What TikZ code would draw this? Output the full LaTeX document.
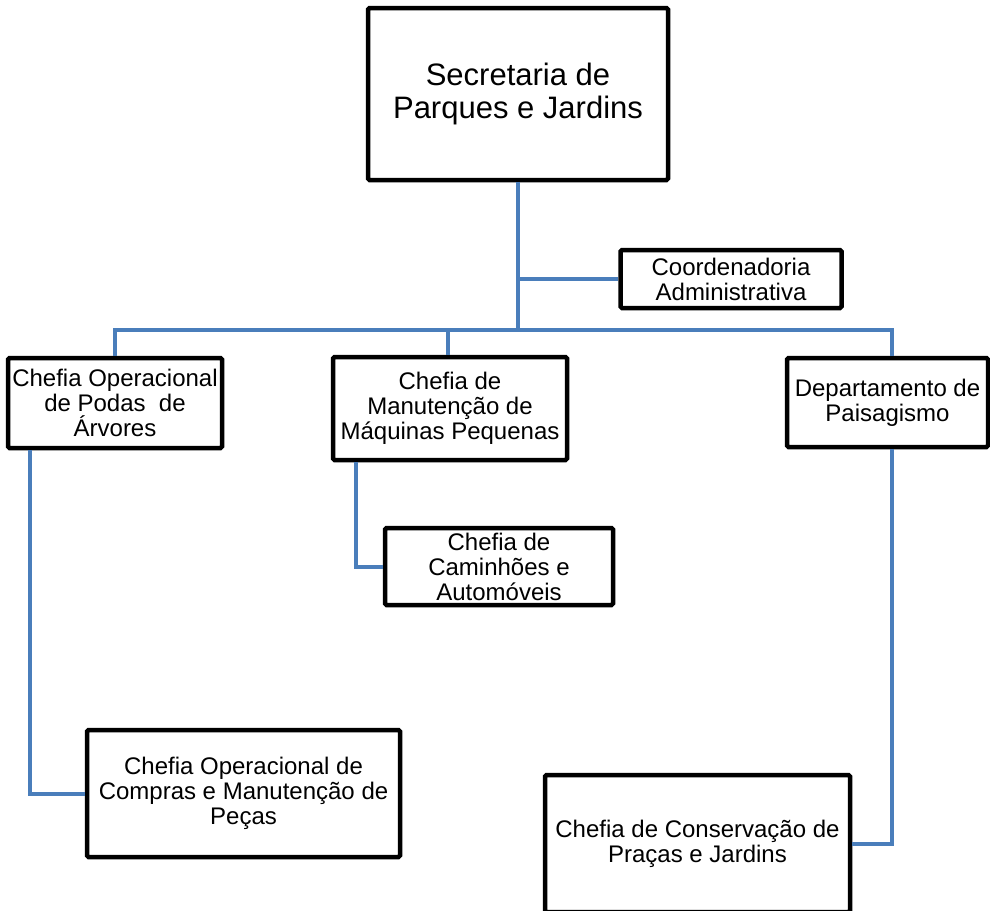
\documentclass[tikz,border=0pt]{standalone}
\usepackage{fontspec}
\setmainfont{Liberation Sans}
\definecolor{linkblue}{RGB}{74,126,187}
\begin{document}
\begin{tikzpicture}[x=1pt,y=-1pt,
  orgbox/.style={draw=black, line width=4.5pt, rounded corners=1.5pt, fill=white,
    inner sep=0pt, align=center, font=\fontsize{24}{25}\selectfont},
  link/.style={draw=linkblue, line width=4pt}]
\useasboundingbox (0,0) rectangle (990,910);
% nodes
\node[orgbox, minimum width=300, minimum height=172, font=\fontsize{31}{33}\selectfont] (sec) at (518,94) {Secretaria de\\Parques e Jardins};
\node[orgbox, minimum width=221, minimum height=58] (coord) at (731,279) {Coordenadoria\\Administrativa};
\node[orgbox, minimum width=214, minimum height=90] (podas) at (115,403) {Chefia Operacional\\de Podas~ de\\Árvores};
\node[orgbox, minimum width=234, minimum height=103] (mid) at (450,408.5) {Chefia de\\Manutenção de\\Máquinas Pequenas};
\node[orgbox, minimum width=201, minimum height=89] (dept) at (887.5,402.5) {Departamento de\\Paisagismo};
\node[orgbox, minimum width=228, minimum height=77] (cam) at (499,566.5) {Chefia de\\Caminhões e\\Automóveis};
\node[orgbox, minimum width=313, minimum height=127] (compras) at (243.5,793.5) {Chefia Operacional de\\Compras e Manutenção de\\Peças};
\node[orgbox, minimum width=305, minimum height=137] (cons) at (697.5,843.5) {Chefia de Conservação de\\Praças e Jardins};
% connectors
\coordinate (bus) at (518,330);
\begin{scope}[on background layer/.try]
\end{scope}
\draw[link] (sec.south) -- (bus);
\draw[link] (coord.west) -- (coord.west -| sec.south);
\draw[link] (podas.north) |- (bus);
\draw[link] (bus) -| ([xshift=4.5pt]dept.north);
\draw[link] ([xshift=-2pt]mid.north) -- ([xshift=-2pt]mid.north |- bus);
\draw[link] ([xshift=24pt]podas.south west) |- (compras.west);
\draw[link] ([xshift=25pt]mid.south west) |- (cam.west);
\draw[link] ([xshift=4.5pt]dept.south) |- (cons.east);
\end{tikzpicture}
\end{document}
